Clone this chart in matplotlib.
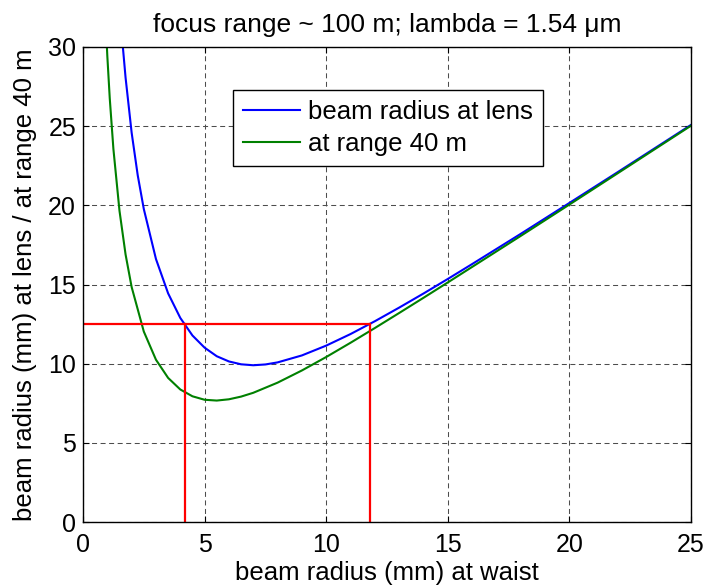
import matplotlib
matplotlib.use("Agg")
import matplotlib.pyplot as plt

# beam radius at waist (mm)
w0_lens = [1.5, 1.6, 1.75, 2.0, 2.25, 2.5, 3.0, 3.5, 4.0, 4.5, 5.0, 5.5, 6.0, 6.5,
           7.0, 7.5, 8.0, 9.0, 10.0, 11.0, 12.0, 13.0, 14.0, 15.0, 16.0, 18.0,
           20.0, 22.0, 25.0]
# beam radius at lens (mm)
w_lens = [32.71, 30.68, 28.07, 24.59, 21.90, 19.77, 16.61, 14.44, 12.89, 11.78,
          11.01, 10.47, 10.14, 9.96, 9.90, 9.95, 10.08, 10.52, 11.14, 11.87,
          12.68, 13.54, 14.43, 15.35, 16.29, 18.20, 20.15, 22.11, 25.08]

w0_range = [0.9, 1.0, 1.1, 1.25, 1.5, 1.75, 2.0, 2.5, 3.0, 3.5, 4.0, 4.5, 5.0,
            5.5, 6.0, 6.5, 7.0, 8.0, 9.0, 10.0, 11.0, 12.0, 13.0, 14.0, 15.0,
            16.0, 18.0, 20.0, 22.0, 25.0]
# beam radius at range 40 m (mm)
w_range = [32.69, 29.43, 26.76, 23.56, 19.66, 16.90, 14.84, 12.03, 10.25, 9.10,
           8.37, 7.94, 7.72, 7.67, 7.75, 7.92, 8.16, 8.80, 9.57, 10.42, 11.32,
           12.25, 13.20, 14.16, 15.13, 16.11, 18.07, 20.05, 22.04, 25.03]

# red marker lines
w_target = 12.5
w0_marks = [4.2, 11.8]

plt.rcParams['font.family'] = ['Liberation Sans', 'DejaVu Sans']
plt.rcParams['font.size'] = 18

fig = plt.figure(figsize=(7.06, 5.87), dpi=100)
ax = fig.add_axes([83/706, 1 - 522/587, (691-83)/706, (522-47)/587])

ax.plot(w0_lens, w_lens, color='#0000ff', lw=1.5, label='beam radius at lens')
ax.plot(w0_range, w_range, color='#008000', lw=1.5, label='at range 40 m')

ax.plot([0, w0_marks[1]], [w_target, w_target], color='#ff0000', lw=1.6)
for xm in w0_marks:
    ax.plot([xm, xm], [0, w_target], color='#ff0000', lw=1.6)

ax.set_xlim(0, 25)
ax.set_ylim(0, 30)
ax.set_xticks(range(0, 26, 5))
ax.set_yticks(range(0, 31, 5))
ax.grid(True, color='0.3', lw=0.75, linestyle=(0, (4.8, 3.4)))
ax.tick_params(direction='in', length=4, top=True, right=True, width=0.8)
ax.tick_params(axis='x', pad=8)
ax.tick_params(axis='y', pad=5)
for s in ax.spines.values():
    s.set_linewidth(1.0)

ax.set_title('focus range ~ 100 m; lambda = 1.54 μm', fontsize=19, pad=11)
ax.set_xlabel('beam radius (mm) at waist', fontsize=18.5, labelpad=3)
ax.set_ylabel('beam radius (mm) at lens / at range 40 m', fontsize=18.5,
              labelpad=8)

leg = ax.legend(loc='upper left', bbox_to_anchor=(0.247, 0.91), fancybox=False,
                framealpha=1, edgecolor='black', fontsize=18.5, handlelength=2.2,
                handletextpad=0.3, borderpad=0.4, labelspacing=0.3,
                borderaxespad=0)
leg.get_frame().set_linewidth(1.0)

fig.savefig('out.png', dpi=100)
